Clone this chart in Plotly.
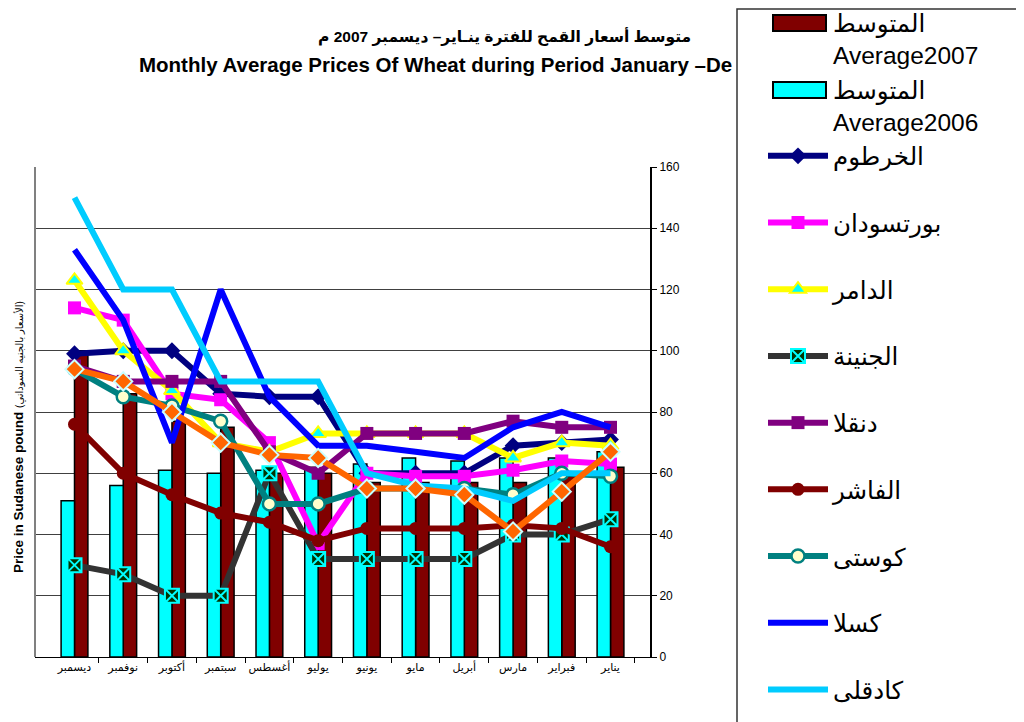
import plotly.graph_objects as go

# ---------------- data (Jan -> Dec) ----------------
months = ["يناير", "فبراير", "مارس", "أبريل", "مايو", "يونيو",
          "يوليو", "أغسطس", "سبتمبر", "أكتوبر", "نوفمبر", "ديسمبر"]

avg2007 = [62, 59, 57, 57, 57, 57, 60, 60, 75, 77, 86, 100]
avg2006 = [67, 65, 65, 64, 65, 63, 62, 61, 60, 61, 56, 51]

khartoum = [71, 70, 69, 60, 60, 60, 85, 85, 86, 100, 100, 99]
port_sudan = [63, 64, 61, 59, 59, 60, 37, 70, 84, 86, 110, 114]
damer = [69, 70, 65, 73, 73, 73, 73, 67, 70, 87, 100, 123]
geneina = [45, 40, 40, 32, 32, 32, 32, 60, 20, 20, 27, 30]
dongola = [75, 75, 77, 73, 73, 73, 60, 67, 90, 90, 90, 95]
fasher = [36, 42, 43, 42, 42, 42, 38, 44, 47, 53, 60, 76]
kosti = [59, 60, 53, 55, 55, 55, 50, 50, 77, 82, 85, 94]
kassala = [75, 80, 75, 65, 67, 69, 69, 85, 120, 70, 110, 133]
kadugli = [60, 60, 51, 55, 56, 60, 90, 90, 90, 120, 120, 150]
other = [67, 54, 41, 53, 55, 55, 65, 66, 70, 80, 90, 94]

title_ar = "متوسط أسعار القمح للفترة ينـاير– ديسمبر 2007 م"
title_en = "Monthly Average Prices Of Wheat during Period January –De"
ytitle_en = "Price in Sudanese pound"
ytitle_ar = "(الأسعار بالجنيه السوداني)"
bar_names = ["المتوسط<br>Average2007", "المتوسط<br>Average2006"]
bar_colors = ["#800000", "#00FFFF"]

# ---------------- geometry (page pixels; page body has an 8px margin) ----------------
OFF = 8
W, H = 1024 - OFF, 722 - OFF
PL, PR, PT, PB = 35, 650, 167, 657  # plot area in page pixels


def px_x(x):
    return (x - PL) / (PR - PL)


def px_y(y):
    return (PB - y) / (PB - PT)


NB = "<br>\u00a0"
FONT = "Liberation Sans, Arial, DejaVu Sans, sans-serif"

fig = go.Figure()

# bars (legend entries drawn by proxy items below, to get wide swatches)
for vals, col in zip([avg2007, avg2006], bar_colors):
    fig.add_trace(go.Bar(x=months, y=vals, showlegend=False,
                         marker=dict(color=col, line=dict(color="black", width=1.5))))
for nm in bar_names:
    fig.add_trace(go.Scatter(x=[months[0]], y=[None], name=nm, mode="markers",
                             marker=dict(color="rgba(0,0,0,0)", size=1)))


def add_line(vals, name, color, marker=None, show=True):
    tr = go.Scatter(x=months, y=vals, name=name, showlegend=show,
                    mode="lines+markers" if marker else "lines",
                    line=dict(color=color, width=6))
    if marker:
        tr.marker = marker
    fig.add_trace(tr)


add_line(khartoum, "الخرطوم" + NB, "#000080",
         dict(symbol="diamond", size=13, color="#000080"))
add_line(port_sudan, "بورتسودان" + NB, "#FF00FF",
         dict(symbol="square", size=13, color="#FF00FF"))
add_line(damer, "الدامر" + NB, "#FFFF00",
         dict(symbol="triangle-up", size=14, color="#00FFFF",
              line=dict(color="#FFFF00", width=2)))
add_line(geneina, "الجنينة" + NB, "#333333",
         dict(symbol="square-x", size=14, color="#003300",
              line=dict(color="#00FFFF", width=2)))
add_line(dongola, "دنقلا" + NB, "#800080",
         dict(symbol="square", size=13, color="#800080"))
add_line(fasher, "الفاشر" + NB, "#800000",
         dict(symbol="circle", size=13, color="#800000"))
add_line(kosti, "كوستى" + NB, "#008080",
         dict(symbol="circle", size=13, color="#FFFFCC",
              line=dict(color="#008080", width=2.5)))
add_line(kassala, "كسلا" + NB, "#0000FF")
add_line(kadugli, "كادقلى" + NB, "#00CCFF")
add_line(other, "مدني", "#FF6600",
         dict(symbol="diamond", size=14, color="#FF6600",
              line=dict(color="#CCFFFF", width=2)), show=False)

shapes = [
    dict(type="rect", xref="paper", yref="paper",
         x0=px_x(737), x1=px_x(1045), y0=px_y(740), y1=px_y(9),
         line=dict(color="#333333", width=1.5), fillcolor="white", layer="above"),
    dict(type="line", xref="paper", yref="paper", x0=0, x1=0, y0=0, y1=1,
         line=dict(color="#808080", width=2), layer="above"),
]
# wide legend swatches for the two bar series
for i, col in enumerate(bar_colors):
    yc = 23 + 67 * i
    shapes.append(dict(type="rect", xref="paper", yref="paper",
                       x0=px_x(773), x1=px_x(826), y0=px_y(yc + 8), y1=px_y(yc - 8),
                       line=dict(color="black", width=2), fillcolor=col, layer="above"))

fig.update_layout(
    width=W, height=H,
    margin=dict(l=PL - OFF, r=W - (PR - OFF), t=PT - OFF, b=H - (PB - OFF),
                autoexpand=False),
    paper_bgcolor="white", plot_bgcolor="white",
    font=dict(family=FONT, color="black"),
    barmode="group", bargap=0.45, bargroupgap=0,
    showlegend=True,
    legend=dict(x=px_x(763), y=px_y(0), xanchor="left", yanchor="top",
                bgcolor="rgba(0,0,0,0)", borderwidth=0, maxheight=2000,
                font=dict(size=24.5, family=FONT, color="black"),
                valign="top", itemwidth=60, traceorder="normal",
                itemclick=False, itemdoubleclick=False),
    xaxis=dict(autorange="reversed", showline=True, linecolor="black", linewidth=1,
               ticks="outside", tickson="boundaries", ticklen=5, tickcolor="black",
               tickangle=0, tickfont=dict(size=11), showgrid=False, zeroline=False),
    yaxis=dict(side="right", range=[0, 160], dtick=20, showline=True,
               linecolor="black", linewidth=2, ticks="outside", ticklen=5,
               tickcolor="black", tickfont=dict(size=12),
               showgrid=True, gridcolor="#404040", gridwidth=1, zeroline=False),
    shapes=shapes,
    annotations=[
        dict(text="<b>" + title_ar + "</b>", xref="paper", yref="paper",
             x=px_x(504), y=px_y(37), xanchor="center", yanchor="middle",
             showarrow=False, font=dict(size=15.5)),
        dict(text="<b>" + title_en + "</b>", xref="paper", yref="paper",
             x=px_x(137), y=px_y(65), xanchor="left", yanchor="middle",
             showarrow=False, font=dict(size=20.5)),
        dict(text="<b>" + ytitle_en + "</b> <span style='font-size:10px'>" + ytitle_ar + "</span>",
             xref="paper", yref="paper", x=px_x(18), y=px_y(437),
             xanchor="center", yanchor="middle", textangle=-90,
             showarrow=False, font=dict(size=13.5)),
    ],
)

fig.write_html("out.html")
